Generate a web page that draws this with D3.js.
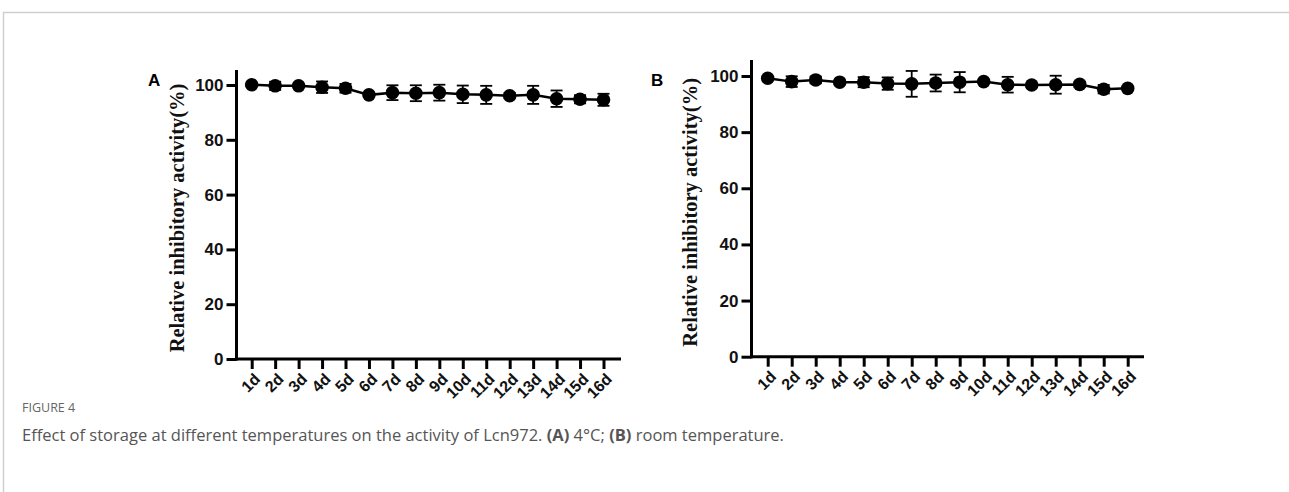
<!DOCTYPE html>
<html>
<head>
<meta charset="utf-8">
<script src="https://cdn.jsdelivr.net/npm/d3@7"></script>
<style>
  body { margin: 0; background: #fff; }
  svg { display: block; }
</style>
</head>
<body>
<svg id="fig" width="1289" height="492"></svg>
<script>
// days on the x axis
const days = ["1d","2d","3d","4d","5d","6d","7d","8d","9d","10d","11d","12d","13d","14d","15d","16d"];

// panel A - 4 C
const meanA = [100.1, 99.7, 99.7, 99.2, 98.8, 96.4, 97.2, 97.0, 97.2, 96.6, 96.4, 96.1, 96.4, 95.0, 94.8, 94.6];
const errA  = [0.4, 1.5, 0.5, 2.1, 1.6, 0.8, 2.7, 2.9, 2.9, 3.2, 3.3, 1.0, 3.3, 3.0, 1.5, 2.2];

// panel B - room temperature
const meanB = [99.2, 98.0, 98.6, 97.8, 97.8, 97.3, 97.2, 97.5, 97.8, 98.0, 96.9, 96.8, 96.9, 97.0, 95.3, 95.6];
const errB  = [0.4, 1.9, 1.2, 0.6, 1.8, 2.2, 4.6, 3.0, 3.6, 0.5, 2.8, 0.6, 3.2, 1.0, 1.5, 0.6];

const yTicks = [0, 20, 40, 60, 80, 100];
const yLabel = "Relative inhibitory activity(%)";

const svg = d3.select("#fig");

// frame lines around figure
svg.append("line").attr("x1", 3.5).attr("x2", 3.5).attr("y1", 12).attr("y2", 492)
  .attr("stroke", "#cfcfcf").attr("stroke-width", 1.5);
svg.append("line").attr("x1", 3).attr("x2", 1289).attr("y1", 12.5).attr("y2", 12.5)
  .attr("stroke", "#cfcfcf").attr("stroke-width", 1.5);

function drawPanel(p) {
  const g = svg.append("g");
  const x = d3.scalePoint().domain(days).range([p.x0, p.x1]);
  const y = d3.scaleLinear().domain([0, 100]).range([p.yb, p.yt]);

  // y axis
  const ya = g.append("g").attr("transform", `translate(${p.ax},0)`)
    .call(d3.axisLeft(y).tickValues(yTicks).tickSize(10).tickSizeOuter(0).tickPadding(3));
  ya.select(".domain").remove();
  ya.selectAll(".tick line").attr("stroke", "#000").attr("stroke-width", 3);
  ya.selectAll("text").attr("font-family", "Liberation Sans, Arial, sans-serif")
    .attr("font-weight", "bold").attr("font-size", 17).attr("fill", "#111");
  g.append("line").attr("x1", p.ax).attr("x2", p.ax).attr("y1", p.ytop).attr("y2", p.yb + 1.5)
    .attr("stroke", "#000").attr("stroke-width", 3);

  // x axis
  const xa = g.append("g").attr("transform", `translate(0,${p.yb})`)
    .call(d3.axisBottom(x).tickSize(10).tickSizeOuter(0));
  xa.select(".domain").remove();
  xa.selectAll(".tick line").attr("stroke", "#000").attr("stroke-width", 3);
  xa.selectAll("text")
    .attr("font-family", "Liberation Sans, Arial, sans-serif")
    .attr("font-weight", "bold").attr("font-size", 16).attr("fill", "#111")
    .attr("text-anchor", "end").attr("dy", null).attr("y", null)
    .attr("transform", "translate(9,21) rotate(-45)");
  g.append("line").attr("x1", p.ax - 1.5).attr("x2", p.xend).attr("y1", p.yb).attr("y2", p.yb)
    .attr("stroke", "#000").attr("stroke-width", 3);

  // y axis title
  g.append("text")
    .attr("transform", `translate(${p.lx},${(p.yt + p.yb) / 2 - 4}) rotate(-90)`)
    .attr("text-anchor", "middle")
    .attr("font-family", "Liberation Serif, 'Times New Roman', serif")
    .attr("font-weight", "bold").attr("font-size", 20.5).attr("fill", "#111")
    .text(yLabel);

  // panel letter
  g.append("text").attr("x", p.tagX).attr("y", p.tagY)
    .attr("font-family", "Liberation Sans, Arial, sans-serif")
    .attr("font-weight", "bold").attr("font-size", 17).text(p.tag);

  const pts = days.map((d, i) => ({ d: d, m: p.mean[i], e: p.err[i] }));

  // line
  g.append("path").datum(pts)
    .attr("d", d3.line().x(d => x(d.d)).y(d => y(d.m)))
    .attr("fill", "none").attr("stroke", "#000").attr("stroke-width", 2.5);

  // error bars
  const eb = g.selectAll(".eb").data(pts).join("g");
  eb.append("line").attr("x1", d => x(d.d)).attr("x2", d => x(d.d))
    .attr("y1", d => y(d.m - d.e)).attr("y2", d => y(d.m + d.e))
    .attr("stroke", "#000").attr("stroke-width", 1.8);
  eb.selectAll(".cap").data(d => [[d.d, d.m - d.e], [d.d, d.m + d.e]]).join("line")
    .attr("x1", d => x(d[0]) - 6).attr("x2", d => x(d[0]) + 6)
    .attr("y1", d => y(d[1])).attr("y2", d => y(d[1]))
    .attr("stroke", "#000").attr("stroke-width", 1.8);

  // markers
  g.selectAll(".pt").data(pts).join("circle")
    .attr("cx", d => x(d.d)).attr("cy", d => y(d.m)).attr("r", 6.8).attr("fill", "#000");
}

drawPanel({ tag: "A", tagX: 148, tagY: 86, mean: meanA, err: errA,
  x0: 251.7, x1: 603.5, ax: 236.5, xend: 621, yb: 359, yt: 85, ytop: 70, lx: 184 });
drawPanel({ tag: "B", tagX: 651, tagY: 86, mean: meanB, err: errB,
  x0: 767.7, x1: 1127.7, ax: 751.5, xend: 1144, yb: 356.7, yt: 76, ytop: 60, lx: 697 });

// caption
svg.append("text").attr("x", 22).attr("y", 412)
  .attr("font-family", "'Open Sans', sans-serif").attr("font-size", 12.5)
  .attr("fill", "#666").text("FIGURE 4");

const cap = svg.append("text").attr("x", 22).attr("y", 441)
  .attr("font-family", "'Open Sans', sans-serif").attr("font-size", 16.5).attr("fill", "#555");
cap.append("tspan").text("Effect of storage at different temperatures on the activity of Lcn972. ");
cap.append("tspan").attr("font-weight", "bold").text("(A)");
cap.append("tspan").text(" 4°C; ");
cap.append("tspan").attr("font-weight", "bold").text("(B)");
cap.append("tspan").text(" room temperature.");
</script>
</body>
</html>
